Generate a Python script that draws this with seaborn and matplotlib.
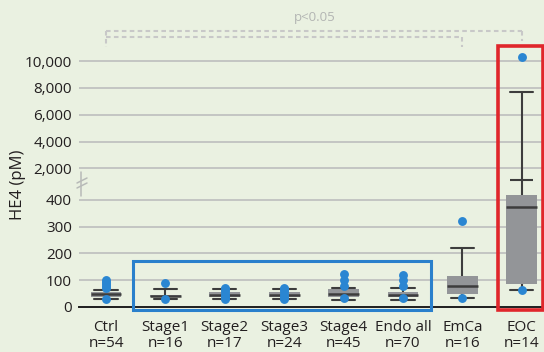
import numpy as np
import pandas as pd
import matplotlib
matplotlib.use("Agg")
import matplotlib.pyplot as plt
import matplotlib.transforms as mtransforms
from matplotlib.patches import Rectangle
from matplotlib.lines import Line2D
import seaborn as sns

# ---------------- data ----------------
groups = ["Ctrl", "Stage1", "Stage2", "Stage3", "Stage4", "Endo all", "EmCa", "EOC"]
n_counts = [54, 16, 17, 24, 45, 70, 16, 14]
# five-number summaries: lower whisker, Q1, median, Q3, upper whisker (pM)
whisker_low = [31, 31, 29, 29, 25, 25, 34, 62]
q1 = [38, 36, 36, 36, 38, 36, 50, 84]
median = [47, 41, 46, 46, 47, 45, 79, 373]
q3 = [57, 46, 56, 56, 67, 55, 116, 418]
whisker_high = [64, 68, 68, 68, 72, 70, 221, 7735]
# individual points shown as dots
dots = {
    "Ctrl": [31, 70, 78, 86, 94, 100],
    "Stage1": [31, 91],
    "Stage2": [28, 35, 42, 50, 58, 66, 72],
    "Stage3": [28, 35, 42, 50, 58, 66, 72],
    "Stage4": [32, 79, 101, 122],
    "Endo all": [32, 78, 101, 119],
    "EmCa": [34, 322],
    "EOC": [62, 10320],
}
eoc_break_cap = 1104
y_ticks = [0, 100, 200, 300, 400, 2000, 4000, 6000, 8000, 10000]
y_ticklabels = ["0", "100", "200", "300", "400", "2,000", "4,000", "6,000", "8,000", "10,000"]
p_text = "p<0.05"

# ---------------- tables ----------------
box_rows = []
for i, g in enumerate(groups):
    for v in [whisker_low[i], q1[i], median[i], q3[i], whisker_high[i]]:
        box_rows.append({"group": g, "value": v})
box_df = pd.DataFrame(box_rows)
dot_df = pd.DataFrame([{"group": g, "value": v} for g in groups for v in dots[g]])

# ---------------- broken axis scale ----------------
LO_END, HI_START, EPS = 451.0, 680.0, 0.002  # lower segment ends / upper starts


def fwd(y):
    y = np.asarray(y, dtype=float)
    u_lo_end = LO_END / 100.0
    return np.where(
        y <= LO_END, y / 100.0,
        np.where(y <= HI_START, u_lo_end + (y - LO_END) / (HI_START - LO_END) * EPS,
                 u_lo_end + EPS + (y - HI_START) / 2000.0),
    )


def inv(u):
    u = np.asarray(u, dtype=float)
    u_lo_end = LO_END / 100.0
    return np.where(
        u <= u_lo_end, u * 100.0,
        np.where(u <= u_lo_end + EPS, LO_END + (u - u_lo_end) / EPS * (HI_START - LO_END),
                 HI_START + (u - u_lo_end - EPS) * 2000.0),
    )


# ---------------- figure ----------------
BG = "#eaf1e1"
W, H = 544, 352
fig = plt.figure(figsize=(W / 100, H / 100), dpi=100, facecolor=BG)
sns.set_style("white")
plt.rcParams["font.family"] = ["Open Sans", "DejaVu Sans"]

ax_left, ax_right = 79 / W, 1.0
y0_px, ytop_px = 307, 20
ax = fig.add_axes([ax_left, 1 - y0_px / H, ax_right - ax_left, (y0_px - ytop_px) / H])
ax.set_facecolor(BG)

box_color = "#939598"
line_color = "#3d3d3d"
sns.boxplot(
    data=box_df, x="group", y="value", order=groups, ax=ax,
    whis=np.inf, width=0.52, color=box_color, saturation=1,
    linecolor=line_color, linewidth=1.5, showfliers=False,
    boxprops={"edgecolor": box_color, "linewidth": 0},
    medianprops={"color": line_color, "linewidth": 1.8},
    capwidths=0.39,
)
sns.stripplot(
    data=dot_df, x="group", y="value", order=groups, ax=ax,
    jitter=False, size=6.4, color="#2a86d2", linewidth=0, zorder=5,
)

# extra cap where the EOC whisker crosses the axis break
eoc_x = groups.index("EOC")
ax.hlines(eoc_break_cap, eoc_x - 0.195, eoc_x + 0.195, color=line_color, lw=1.5, zorder=4)

ax.set_yscale("function", functions=(fwd, inv))
units_top = (y0_px - ytop_px) / 26.8
ax.set_ylim(0, float(inv(units_top)))
ax.set_xlim(-27 / 59.4, (W - 106) / 59.4)

ax.set_yticks(y_ticks)
ax.set_yticklabels(y_ticklabels)
ax.yaxis.set_minor_locator(matplotlib.ticker.NullLocator())
ax.set_xticks(range(len(groups)))
ax.set_xticklabels([f"{g}\nn={n}" for g, n in zip(groups, n_counts)], linespacing=1.05)
ax.tick_params(axis="both", length=0, labelsize=11, colors="#231f20")
ax.tick_params(axis="y", pad=5)
ax.tick_params(axis="x", pad=9.5)
ax.set_xlabel("")
ax.set_ylabel("")

for t in y_ticks[1:]:
    ax.axhline(t, color="#c3c5c3", lw=1.4, zorder=0)
for s in ["left", "right", "top"]:
    ax.spines[s].set_visible(False)
ax.spines["bottom"].set_color("#1e1e1e")
ax.spines["bottom"].set_linewidth(1.4)

# ---------------- annotations in pixel space ----------------
def fy(px):
    return 1 - px / H


def fx(px):
    return px / W


fig.text(fx(18), fy(185), "HE4 (pM)", rotation=90, ha="center", va="center",
         fontsize=12, color="#231f20")

trans_xfig = mtransforms.blended_transform_factory(ax.transData, fig.transFigure)
dash_kw = dict(color="#c8c8c8", lw=1.5, linestyle=(0, (2.2, 1.6)), transform=trans_xfig, clip_on=False)
ctrl_x, emca_x = 0, groups.index("EmCa")
ax.add_line(Line2D([ctrl_x, eoc_x], [fy(31), fy(31)], **dash_kw))
ax.add_line(Line2D([ctrl_x, emca_x], [fy(37), fy(37)], **dash_kw))
ax.add_line(Line2D([ctrl_x, ctrl_x], [fy(31), fy(47)], **dash_kw))
ax.add_line(Line2D([emca_x, emca_x], [fy(37), fy(47)], **dash_kw))
ax.add_line(Line2D([eoc_x, eoc_x], [fy(31), fy(41)], **dash_kw))
fig.text(fx(315), fy(18), p_text, ha="center", va="center", fontsize=9.5, color="#b3b5b3")

# highlight boxes
fig.add_artist(Rectangle((fx(133), fy(310)), fx(431 - 133), (310 - 261) / H,
                         fill=False, edgecolor="#2a80cc", lw=2.2, transform=fig.transFigure))
fig.add_artist(Rectangle((fx(498), fy(310)), fx(542.5 - 498), (310 - 46) / H,
                         fill=False, edgecolor="#e0262b", lw=2.6, transform=fig.transFigure))

# axis break mark
brk_kw = dict(color="#b8bab8", lw=1.1, transform=fig.transFigure)
fig.add_artist(Line2D([fx(81), fx(81)], [fy(172), fy(196)], **brk_kw))
fig.add_artist(Line2D([fx(77), fx(87)], [fy(183), fy(178)], **brk_kw))
fig.add_artist(Line2D([fx(77), fx(87)], [fy(188), fy(183)], **brk_kw))

fig.savefig("out.png", dpi=100, facecolor=BG)
